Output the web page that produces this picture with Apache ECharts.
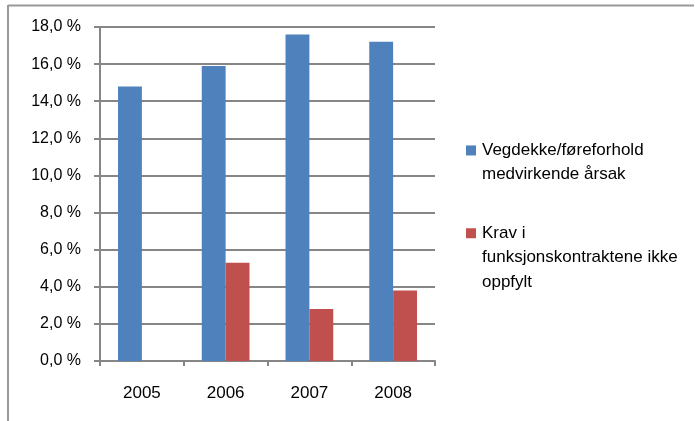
<!DOCTYPE html>
<html>
<head>
<meta charset="utf-8">
<script src="https://cdn.jsdelivr.net/npm/echarts@6/dist/echarts.min.js"></script>
<style>
  html, body { margin: 0; padding: 0; background: #fff; }
  #chart { width: 695px; height: 421px; }
</style>
</head>
<body>
<div id="chart"></div>
<script>
// årstall og andeler (prosent)
var years = ["2005", "2006", "2007", "2008"];
var vegdekke = [14.8, 15.9, 17.6, 17.2];
var krav = [0, 5.3, 2.8, 3.8];
var yTicks = [0, 2, 4, 6, 8, 10, 12, 14, 16, 18];

var nameVeg = "Vegdekke/føreforhold medvirkende årsak";
var nameKrav = "Krav i funksjonskontraktene ikke oppfylt";

var fontFam = "'Liberation Sans', Arial, sans-serif";
var gray = "#868686";

var myChart = echarts.init(document.getElementById("chart"));

var option = {
  backgroundColor: "#fff",
  animation: false,
  grid: {
    left: 100,
    top: 27,
    right: 260,
    bottom: 60
  },
  // legende: ikonet skal stå ved første linje
  legend: [
    {
      data: [nameVeg],
      left: 466,
      top: 114,
      padding: 0,
      orient: "vertical",
      itemWidth: 10,
      itemHeight: 10,
      itemGap: 6,
      icon: "rect",
      formatter: function () {
        return " \nVegdekke/føreforhold\nmedvirkende årsak";
      },
      textStyle: { fontFamily: fontFam, fontSize: 17, color: "#000", lineHeight: 24.3, padding: [0, 0, 0, 1] }
    },
    {
      data: [nameKrav],
      left: 466,
      top: 172,
      padding: 0,
      orient: "vertical",
      itemWidth: 10,
      itemHeight: 10,
      icon: "rect",
      formatter: function () {
        return " \n \nKrav i\nfunksjonskontraktene ikke\noppfylt";
      },
      textStyle: { fontFamily: fontFam, fontSize: 17, color: "#000", lineHeight: 24.5, padding: [0, 0, 0, 1] }
    }
  ],
  xAxis: {
    type: "category",
    data: years,
    boundaryGap: true,
    axisLine: { show: true, lineStyle: { color: gray, width: 2 } },
    axisTick: { show: true, length: 5, lineStyle: { color: gray, width: 2 } },
    axisLabel: {
      margin: 24,
      color: "#000",
      fontFamily: fontFam,
      fontSize: 17
    }
  },
  yAxis: {
    type: "value",
    min: 0,
    max: 18,
    interval: 2,
    axisLine: { show: true, lineStyle: { color: gray, width: 2 } },
    axisTick: { show: true, length: 6, lineStyle: { color: gray, width: 2 } },
    axisLabel: {
      margin: 19,
      color: "#000",
      fontFamily: fontFam,
      fontSize: 16,
      formatter: function (v) {
        return v.toFixed(1).replace(".", ",") + " %";
      }
    },
    splitLine: { show: true, lineStyle: { color: gray, width: 2 } }
  },
  series: [
    {
      name: nameVeg,
      type: "bar",
      data: vegdekke,
      barGap: "0%",
      barCategoryGap: "43%",
      itemStyle: { color: "#4F81BD" }
    },
    {
      name: nameKrav,
      type: "bar",
      data: krav,
      itemStyle: { color: "#C0504D" }
    }
  ],
  // ytre ramme
  graphic: [
    { type: "line", shape: { x1: 8, y1: 5.5, x2: 694, y2: 5.5 }, style: { stroke: "#999", lineWidth: 2 } },
    { type: "line", shape: { x1: 8, y1: 5, x2: 8, y2: 421 }, style: { stroke: "#999", lineWidth: 2 } }
  ]
};

if (option && typeof option === "object") {
  myChart.setOption(option, true);
}
</script>
</body>
</html>
